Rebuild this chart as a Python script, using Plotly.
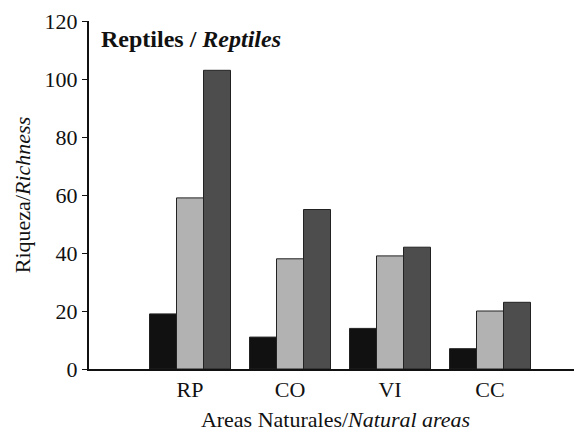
import plotly.graph_objects as go

categories = ["RP", "CO", "VI", "CC"]
series_names = ["Serie 1", "Serie 2", "Serie 3"]
values_black = [19, 11, 14, 7]
values_light = [59, 38, 39, 20]
values_dark = [103, 55, 42, 23]
colors = ["#111111", "#b2b2b2", "#4d4d4d"]
y_ticks = [0, 20, 40, 60, 80, 100, 120]

FONT = "Liberation Serif"

fig = go.Figure()
for name, vals, col in zip(series_names, [values_black, values_light, values_dark], colors):
    fig.add_trace(go.Bar(
        x=categories, y=vals, name=name,
        marker=dict(color=col, line=dict(color="#222222", width=1)),
        showlegend=False,
    ))

fig.update_layout(
    width=582, height=437,
    margin=dict(l=81, r=8, t=13, b=76, autoexpand=False),
    paper_bgcolor="white", plot_bgcolor="white",
    barmode="group", bargap=0.19, bargroupgap=0,
    font=dict(family=FONT, color="#111111", size=22),
    xaxis=dict(
        type="category", range=[-1.01, 3.92],
        showline=True, linecolor="#111111", linewidth=2,
        ticks="", showgrid=False, zeroline=False,
        tickfont=dict(size=22, family=FONT),
        title=dict(text="Areas Naturales/<i>Natural areas</i>",
                   font=dict(size=22, family=FONT), standoff=10),
    ),
    yaxis=dict(
        range=[0, 120], tickvals=y_ticks,
        showline=True, linecolor="#111111", linewidth=2,
        ticks="outside", ticklen=5, tickcolor="#111111",
        showgrid=False, zeroline=False,
        tickfont=dict(size=22, family=FONT),
        title=dict(text="Riqueza/<i>Richness</i>",
                   font=dict(size=22, family=FONT), standoff=8),
    ),
)

fig.add_annotation(
    text="<b>Reptiles / <i>Reptiles</i></b>",
    xref="paper", yref="paper", x=0.02, y=0.948,
    xanchor="left", yanchor="middle", showarrow=False,
    font=dict(size=24, family=FONT, color="#111111"),
)

fig.write_html("out.html")
